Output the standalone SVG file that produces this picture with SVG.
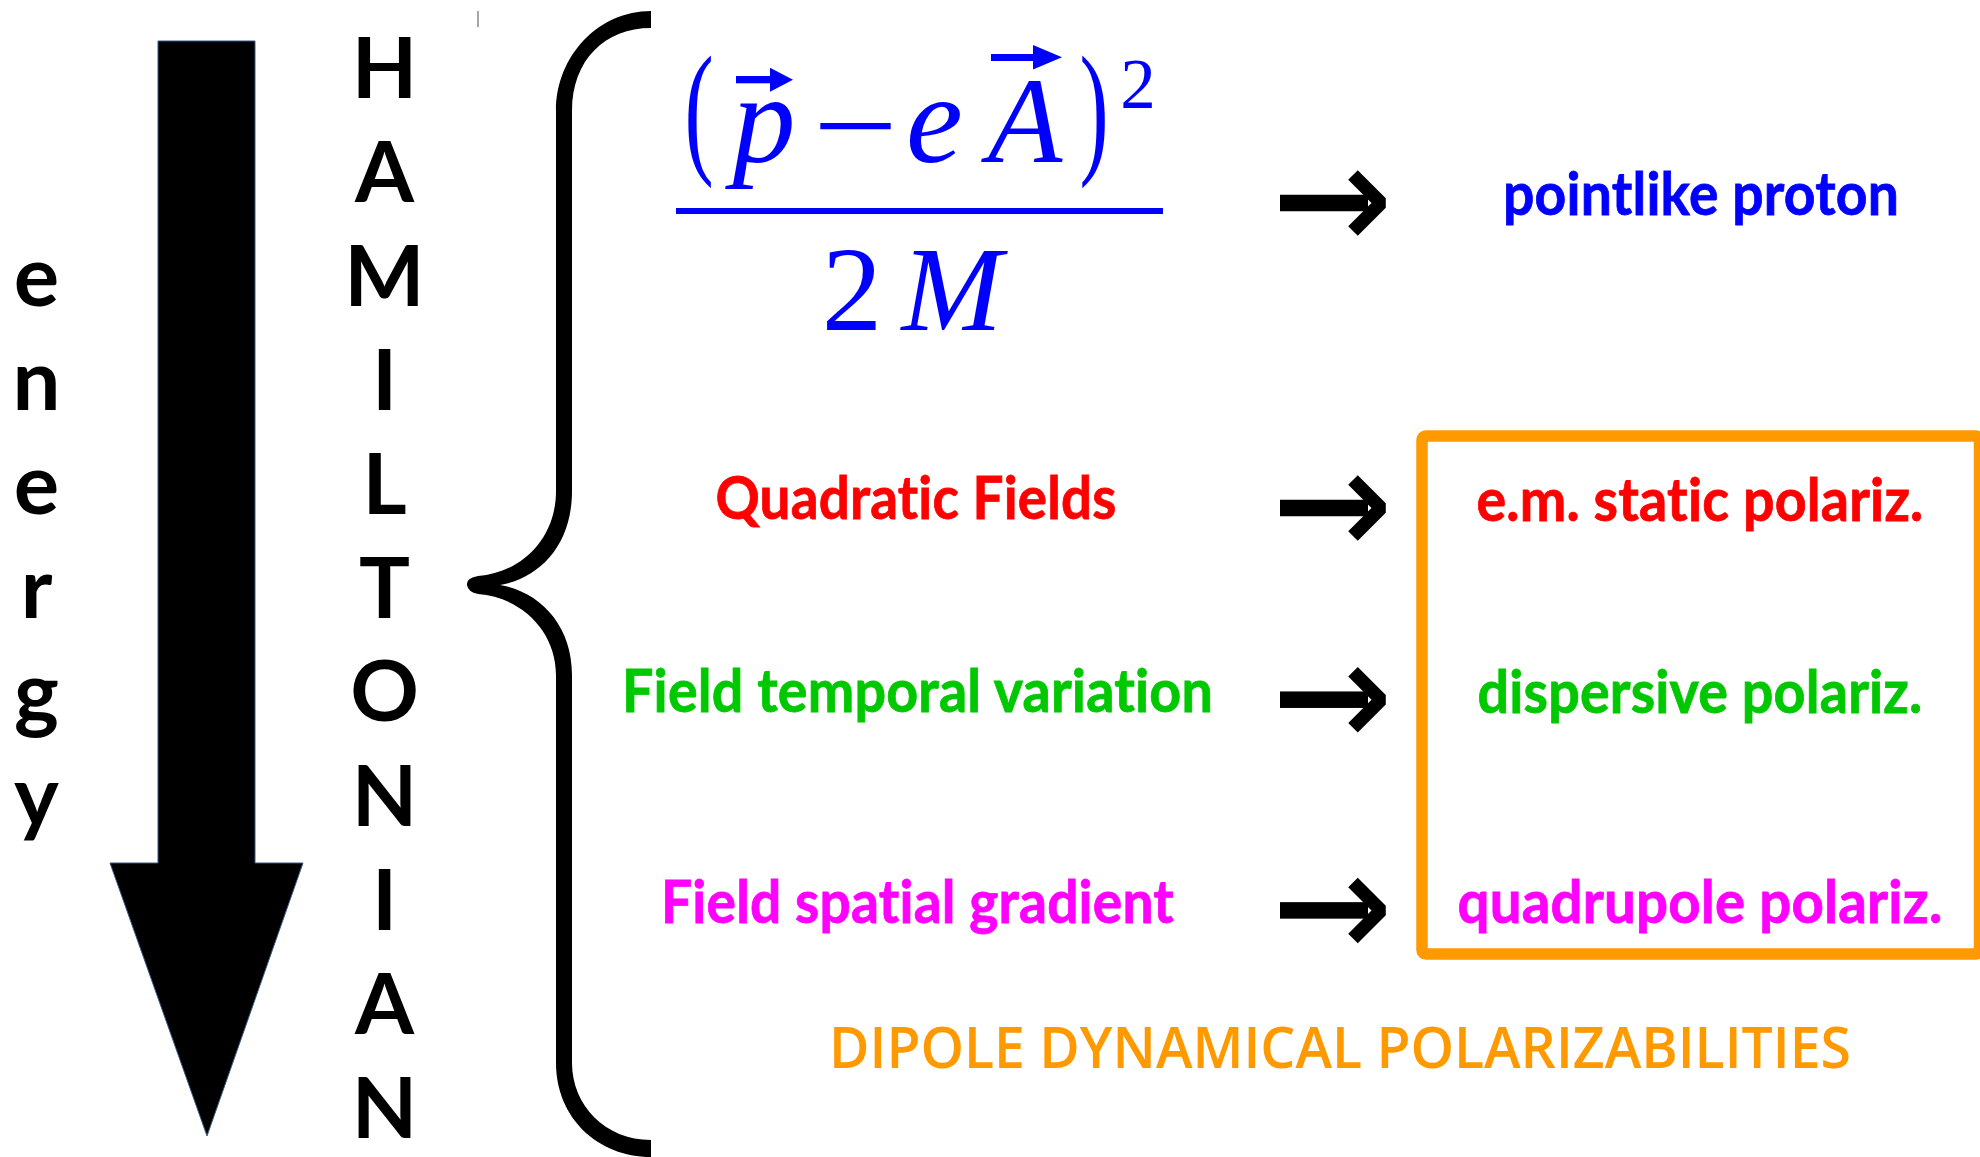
<svg xmlns="http://www.w3.org/2000/svg" xmlns:xlink="http://www.w3.org/1999/xlink" width="1980" height="1157" viewBox="0 0 1980 1157">
<style>
.vert{font-family:Lato,"Liberation Sans",sans-serif;font-weight:bold;font-size:85px;fill:#000;text-anchor:middle}
.lab{font-family:Lato,"Liberation Sans",sans-serif;font-weight:bold;font-size:60px;text-anchor:middle;letter-spacing:0.2px;font-variant-ligatures:none;font-feature-settings:"liga" 0,"clig" 0,"dlig" 0,"calt" 0;stroke-width:0.8px}
.math{font-family:"Liberation Serif",serif;fill:#0000ff;text-anchor:middle}
.it{font-style:italic}
</style>
<defs>
<g id="arr">
<rect x="1280" y="-8.25" width="88" height="16.5" fill="#000"/>
<path d="M1353,-28 L1381,0 L1353,28" fill="none" stroke="#000" stroke-width="13.5" stroke-linejoin="bevel"/>
</g>
</defs>
<rect width="1980" height="1157" fill="#fff"/>
<g id="energy-arrow">
<polygon points="158,41 255,41 255,863 303,863 207,1136 110,863 158,863" fill="#000" stroke="#385d8a" stroke-width="1"/>
</g>
<g id="energy-label">
<text class="vert"><tspan x="36.5" y="306">e</tspan><tspan x="36.5" y="410">n</tspan><tspan x="36.5" y="514">e</tspan><tspan x="36.5" y="618">r</tspan><tspan x="36.5" y="722">g</tspan><tspan x="36.5" y="826">y</tspan></text>
</g>
<g id="hamiltonian-label">
<text class="vert"><tspan x="384.5" y="98">H</tspan><tspan x="384.5" y="202">A</tspan><tspan x="384.5" y="306">M</tspan><tspan x="384.5" y="410">I</tspan><tspan x="384.5" y="514">L</tspan><tspan x="384.5" y="618">T</tspan><tspan x="384.5" y="721">O</tspan><tspan x="384.5" y="826">N</tspan><tspan x="384.5" y="930">I</tspan><tspan x="384.5" y="1034">A</tspan><tspan x="384.5" y="1138">N</tspan></text>
<line x1="478" y1="11" x2="478" y2="27" stroke="#888" stroke-width="1.5"/>
</g>
<g id="brace">
<path d="M651,11 C598.6,11 556,55.8 556,111 L556,491 C556,540 520,573 478,576 Q466,578 467,585 Q468,592 478,594 C520,597 556,630 556,675 L556,1063 C556,1118 598,1157 651,1157 L651,1140 C605,1140 572,1105 572,1063 L572,675 C572,625 540,592 500,585 C540,578 572,545 572,491 L572,111 C572,60 605,28 651,28 Z" fill="#000"/>
</g>
<g id="formula">
<text class="math" transform="translate(699,157) scale(0.6,1)" font-size="146">(</text>
<text class="math it" x="764" y="162" font-size="126">p</text>
<rect x="736" y="76" width="36" height="7.3" fill="#0000ff"/>
<polygon points="770,67.7 793,79.7 770,91.7" fill="#0000ff"/>
<text class="math" transform="translate(855.5,168) scale(1.2,1)" font-size="126">−</text>
<text class="math it" x="934.5" y="162" font-size="128">e</text>
<text class="math it" x="1025" y="162" font-size="122">A</text>
<rect x="991" y="54" width="44" height="7" fill="#0000ff"/>
<polygon points="1033,45 1062,57.3 1033,69.5" fill="#0000ff"/>
<text class="math" transform="translate(1094,157) scale(0.6,1)" font-size="146">)</text>
<text class="math" x="1138" y="108" font-size="71">2</text>
<rect x="676" y="208" width="487" height="6" fill="#0000ff"/>
<text class="math" x="852" y="330" font-size="121">2</text>
<text class="math it" x="952" y="330" font-size="121">M</text>
</g>
<g id="connectors">
<use xlink:href="#arr" y="203"/>
<use xlink:href="#arr" y="508"/>
<use xlink:href="#arr" y="699.7"/>
<use xlink:href="#arr" y="910.4"/>
</g>
<g id="pointlike-proton">
<text class="lab" x="1701" y="215" font-size="61" fill="#0000ff" stroke="#0000ff" textLength="396" lengthAdjust="spacingAndGlyphs">pointlike proton</text>
</g>
<g id="quadratic-fields">
<text class="lab" x="916" y="519" fill="#ff0000" stroke="#ff0000" textLength="401" lengthAdjust="spacingAndGlyphs">Quadratic Fields</text>
</g>
<g id="field-temporal">
<text class="lab" x="917.5" y="712" fill="#00c800" stroke="#00c800" textLength="591" lengthAdjust="spacingAndGlyphs">Field temporal variation</text>
</g>
<g id="field-spatial">
<text class="lab" x="917.5" y="923" fill="#ff00ff" stroke="#ff00ff" textLength="513" lengthAdjust="spacingAndGlyphs">Field spatial gradient</text>
</g>
<g id="polariz-box">
<rect x="1422" y="436" width="557.5" height="518" rx="4" fill="none" stroke="#ff9900" stroke-width="11.5"/>
<text class="lab" x="1700" y="520.5" fill="#ff0000" stroke="#ff0000" textLength="447" lengthAdjust="spacingAndGlyphs">e.m. static polariz.</text>
<text class="lab" x="1700" y="712.7" fill="#00c800" stroke="#00c800" textLength="445" lengthAdjust="spacingAndGlyphs">dispersive polariz.</text>
<text class="lab" x="1700" y="923.4" fill="#ff00ff" stroke="#ff00ff" textLength="485" lengthAdjust="spacingAndGlyphs">quadrupole polariz.</text>
</g>
<g id="dipole-label">
<text x="1340" y="1068" font-family="'Open Sans','DejaVu Sans',sans-serif" font-weight="600" font-size="58" fill="#ff9900" text-anchor="middle" textLength="1022" lengthAdjust="spacingAndGlyphs">DIPOLE DYNAMICAL POLARIZABILITIES</text>
</g>
</svg>
